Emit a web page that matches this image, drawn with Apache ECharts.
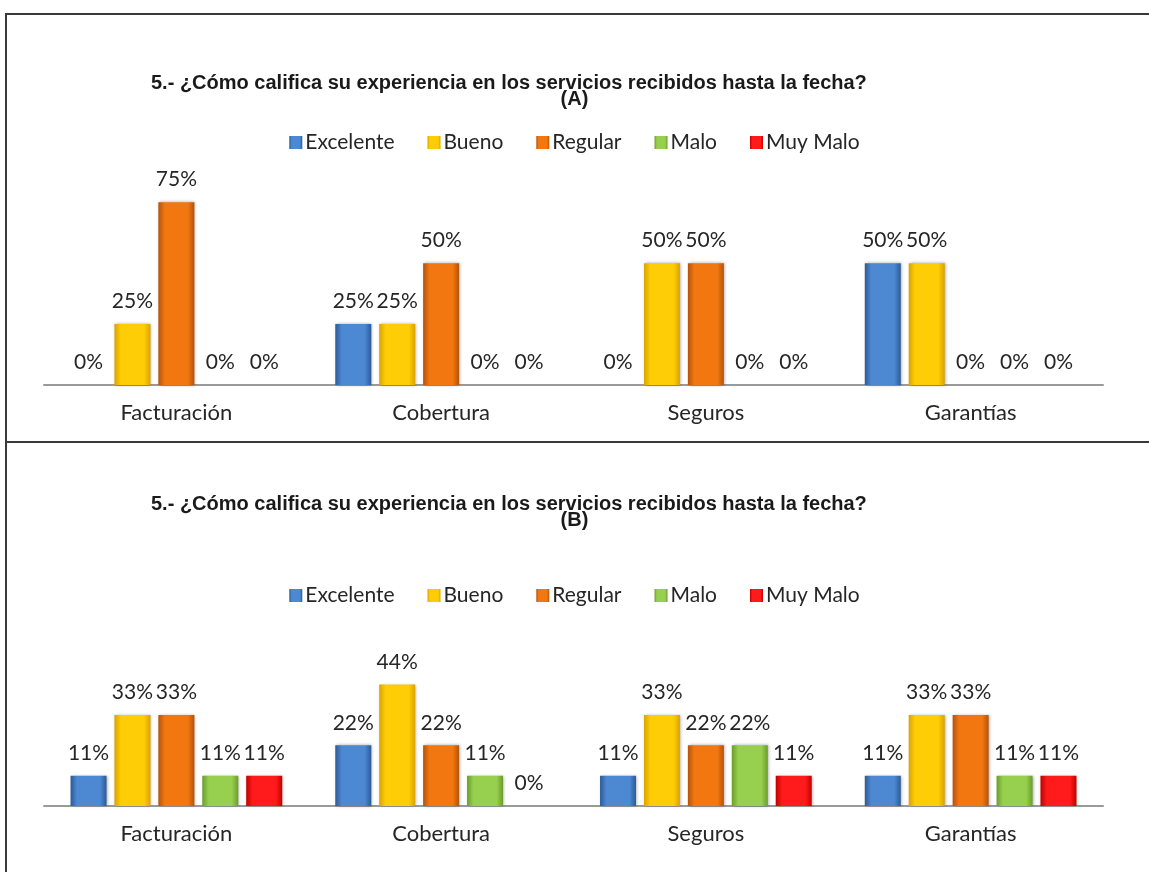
<!DOCTYPE html>
<html>
<head>
<meta charset="utf-8">
<script src="https://cdn.jsdelivr.net/npm/echarts@6/dist/echarts.min.js"></script>
<style>
  html, body { margin: 0; padding: 0; background: #fff; }
  #chart { position: absolute; left: 0; top: 0; width: 1149px; height: 872px; }
  .rule { position: absolute; background: #3a3a3a; }
</style>
</head>
<body>
<div id="chart"></div>
<div class="rule" style="left:5px;top:13px;width:2px;height:859px"></div>
<div class="rule" style="left:5px;top:13px;width:1144px;height:2px"></div>
<div class="rule" style="left:5px;top:441px;width:1144px;height:2px"></div>
<script>
// categorias y calificaciones
const categories = ['Facturación', 'Cobertura', 'Seguros', 'Garantías']
const ratings = ['Excelente', 'Bueno', 'Regular', 'Malo', 'Muy Malo']

// grafico (A), porcentajes por categoria
const excelenteA = [0, 25, 0, 50]
const buenoA = [25, 25, 50, 50]
const regularA = [75, 50, 50, 0]
const maloA = [0, 0, 0, 0]
const muyMaloA = [0, 0, 0, 0]

// grafico (B)
const excelenteB = [11, 22, 11, 11]
const buenoB = [33, 44, 33, 33]
const regularB = [33, 22, 22, 33]
const maloB = [11, 11, 22, 11]
const muyMaloB = [11, 0, 11, 11]

const titleText = '5.- ¿Cómo califica su experiencia en los servicios recibidos hasta la fecha?'

// colores tipo bisel de Excel: [borde oscuro, centro]
const palette = [
    ['#2c5a97', '#4d88d2'],
    ['#d9a400', '#ffcd06'],
    ['#b5520a', '#f27711'],
    ['#6c9c2d', '#96d04e'],
    ['#c20000', '#ff1b1b']
]

const labelFont = 'Lato, "Open Sans", sans-serif'

function barFill(i) {
    return new echarts.graphic.LinearGradient(0, 0, 1, 0, [
        { offset: 0, color: palette[i][0] },
        { offset: 0.18, color: palette[i][1] },
        { offset: 0.82, color: palette[i][1] },
        { offset: 1, color: palette[i][0] }
    ])
}

function makeSeries(dataSets, gridIndex) {
    return dataSets.map(function (data, i) {
        return {
            name: ratings[i],
            type: 'bar',
            xAxisIndex: gridIndex,
            yAxisIndex: gridIndex,
            data: data,
            barWidth: 36,
            barGap: '22%',
            itemStyle: {
                color: barFill(i),
                shadowColor: 'rgba(0,0,0,0.35)',
                shadowBlur: 3,
                shadowOffsetX: 1,
                shadowOffsetY: 0
            },
            label: {
                show: true,
                position: 'top',
                distance: 12,
                formatter: '{c}%',
                color: '#262626',
                fontFamily: labelFont,
                fontSize: 21
            }
        }
    })
}

function xAxisFor(gridIndex) {
    return {
        type: 'category',
        gridIndex: gridIndex,
        data: categories,
        axisTick: { show: false },
        axisLine: { lineStyle: { color: '#9a9a9a', width: 2 } },
        axisLabel: {
            margin: 17,
            color: '#262626',
            fontFamily: labelFont,
            fontSize: 22
        }
    }
}

function yAxisFor(gridIndex, max) {
    return {
        type: 'value',
        gridIndex: gridIndex,
        min: 0,
        max: max,
        show: false,
        splitLine: { show: false }
    }
}

function titleParts(letter, top) {
    const style = {
        fontFamily: '"Liberation Sans", Arial, sans-serif',
        fontWeight: 'bold',
        fontSize: 20,
        color: '#1a1a1a'
    }
    return [
        { text: titleText, left: 146, top: top, textStyle: style },
        { text: '(' + letter + ')', left: 'center', top: top + 16, textStyle: style }
    ]
}

function legendFor(seriesNames, top) {
    return {
        data: seriesNames,
        top: top,
        left: 'center',
        itemWidth: 13,
        itemHeight: 13,
        itemGap: 33,
        icon: 'rect',
        textStyle: {
            color: '#262626',
            fontFamily: labelFont,
            fontSize: 21,
            padding: [0, 0, 0, -2]
        }
    }
}

const chart = echarts.init(document.getElementById('chart'))

const seriesA = makeSeries([excelenteA, buenoA, regularA, maloA, muyMaloA], 0)
const seriesB = makeSeries([excelenteB, buenoB, regularB, maloB, muyMaloB], 1)

chart.setOption({
    animation: false,
    title: titleParts('A', 68).concat(titleParts('B', 489)),
    legend: [
        legendFor(ratings, 127),
        legendFor(ratings, 580)
    ],
    grid: [
        { left: 44, right: 46, top: 190, bottom: 487 },
        { left: 44, right: 46, top: 668, bottom: 66 }
    ],
    xAxis: [xAxisFor(0), xAxisFor(1)],
    yAxis: [yAxisFor(0, 80), yAxisFor(1, 50)],
    series: seriesA.concat(seriesB)
})
</script>
</body>
</html>
